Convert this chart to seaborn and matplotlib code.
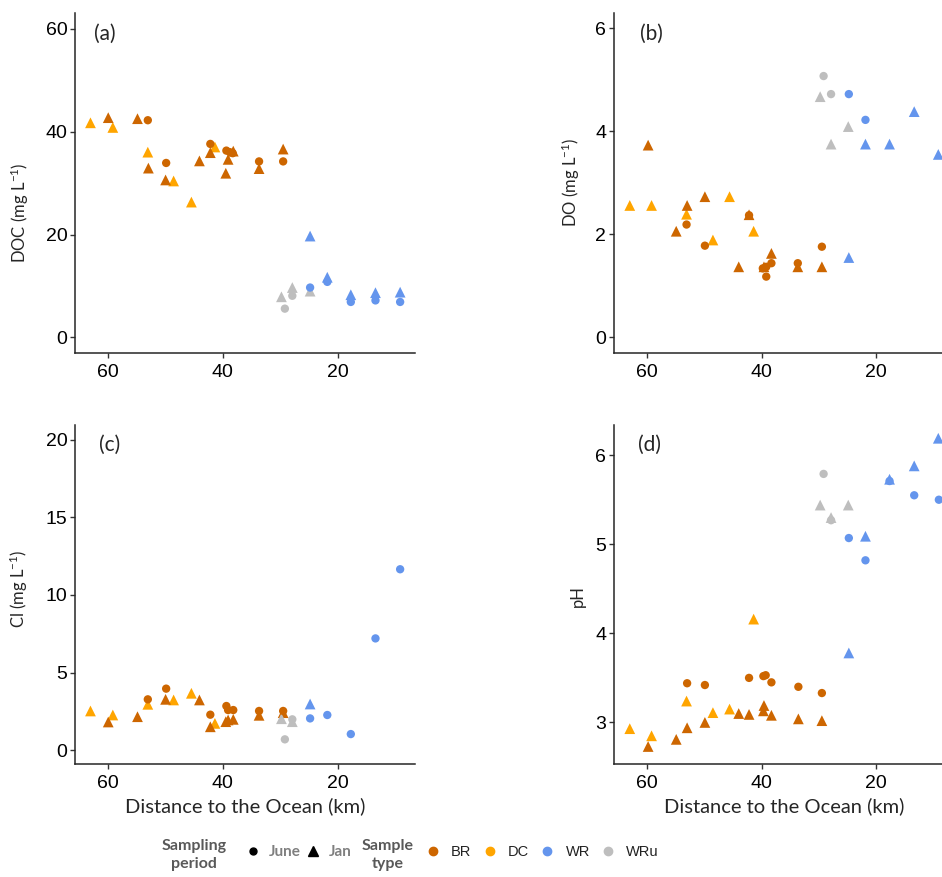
import pandas as pd
import seaborn as sns
import matplotlib.pyplot as plt
from matplotlib.lines import Line2D

# each point: (distance to ocean km, value, sample type, sampling period)
doc_pts = [
    (63.1, 41.7, 'DC', 'Jan'), (59.2, 40.8, 'DC', 'Jan'), (53.1, 36.0, 'DC', 'Jan'),
    (48.6, 30.4, 'DC', 'Jan'), (45.5, 26.3, 'DC', 'Jan'), (41.4, 37.0, 'DC', 'Jan'),
    (60.0, 42.7, 'BR', 'Jan'), (54.9, 42.5, 'BR', 'Jan'), (53.0, 32.9, 'BR', 'Jan'),
    (50.0, 30.6, 'BR', 'Jan'), (44.1, 34.3, 'BR', 'Jan'), (42.2, 35.9, 'BR', 'Jan'),
    (39.5, 31.9, 'BR', 'Jan'), (39.1, 34.6, 'BR', 'Jan'), (38.2, 36.2, 'BR', 'Jan'),
    (33.7, 32.8, 'BR', 'Jan'), (29.5, 36.6, 'BR', 'Jan'),
    (29.8, 7.9, 'WRu', 'Jan'), (27.9, 9.7, 'WRu', 'Jan'), (24.8, 9.0, 'WRu', 'Jan'),
    (24.8, 19.7, 'WR', 'Jan'), (21.8, 11.7, 'WR', 'Jan'), (17.7, 8.3, 'WR', 'Jan'),
    (13.4, 8.7, 'WR', 'Jan'), (9.1, 8.8, 'WR', 'Jan'),
    (53.1, 42.2, 'BR', 'June'), (49.9, 33.9, 'BR', 'June'), (42.2, 37.6, 'BR', 'June'),
    (39.4, 36.3, 'BR', 'June'), (38.8, 36.0, 'BR', 'June'), (38.3, 35.8, 'BR', 'June'),
    (33.7, 34.2, 'BR', 'June'), (29.5, 34.2, 'BR', 'June'),
    (29.2, 5.6, 'WRu', 'June'), (27.9, 8.1, 'WRu', 'June'),
    (24.8, 9.7, 'WR', 'June'), (21.8, 10.8, 'WR', 'June'), (17.7, 6.9, 'WR', 'June'),
    (13.4, 7.2, 'WR', 'June'), (9.1, 6.9, 'WR', 'June'),
]

do_pts = [
    (63.0, 2.56, 'DC', 'Jan'), (59.2, 2.56, 'DC', 'Jan'), (53.1, 2.39, 'DC', 'Jan'),
    (48.5, 1.89, 'DC', 'Jan'), (45.6, 2.73, 'DC', 'Jan'), (41.4, 2.06, 'DC', 'Jan'),
    (59.8, 3.73, 'BR', 'Jan'), (54.9, 2.06, 'BR', 'Jan'), (53.0, 2.56, 'BR', 'Jan'),
    (49.9, 2.73, 'BR', 'Jan'), (44.0, 1.37, 'BR', 'Jan'), (42.2, 2.38, 'BR', 'Jan'),
    (39.6, 1.37, 'BR', 'Jan'), (38.3, 1.63, 'BR', 'Jan'), (33.7, 1.37, 'BR', 'Jan'),
    (29.5, 1.37, 'BR', 'Jan'),
    (29.8, 4.67, 'WRu', 'Jan'), (27.9, 3.75, 'WRu', 'Jan'), (24.9, 4.09, 'WRu', 'Jan'),
    (24.8, 1.55, 'WR', 'Jan'), (21.9, 3.75, 'WR', 'Jan'), (17.7, 3.75, 'WR', 'Jan'),
    (13.4, 4.38, 'WR', 'Jan'), (9.2, 3.55, 'WR', 'Jan'),
    (53.1, 2.19, 'BR', 'June'), (49.9, 1.78, 'BR', 'June'), (42.2, 2.37, 'BR', 'June'),
    (39.8, 1.34, 'BR', 'June'), (39.2, 1.37, 'BR', 'June'), (39.2, 1.18, 'BR', 'June'),
    (38.3, 1.44, 'BR', 'June'), (33.7, 1.44, 'BR', 'June'), (29.5, 1.76, 'BR', 'June'),
    (29.2, 5.07, 'WRu', 'June'), (27.9, 4.72, 'WRu', 'June'),
    (24.8, 4.72, 'WR', 'June'), (21.9, 4.22, 'WR', 'June'),
]

cl_pts = [
    (63.1, 2.52, 'DC', 'Jan'), (59.2, 2.26, 'DC', 'Jan'), (53.1, 2.95, 'DC', 'Jan'),
    (48.6, 3.23, 'DC', 'Jan'), (45.5, 3.66, 'DC', 'Jan'), (41.4, 1.72, 'DC', 'Jan'),
    (60.0, 1.81, 'BR', 'Jan'), (54.9, 2.15, 'BR', 'Jan'), (50.0, 3.27, 'BR', 'Jan'),
    (44.1, 3.23, 'BR', 'Jan'), (42.2, 1.50, 'BR', 'Jan'), (39.5, 1.83, 'BR', 'Jan'),
    (39.1, 1.94, 'BR', 'Jan'), (38.2, 1.98, 'BR', 'Jan'), (33.7, 2.24, 'BR', 'Jan'),
    (29.5, 2.41, 'BR', 'Jan'),
    (29.8, 2.02, 'WRu', 'Jan'), (27.9, 1.83, 'WRu', 'Jan'),
    (24.8, 2.97, 'WR', 'Jan'),
    (53.1, 3.27, 'BR', 'June'), (49.9, 3.96, 'BR', 'June'), (42.2, 2.28, 'BR', 'June'),
    (39.4, 2.84, 'BR', 'June'), (39.1, 2.58, 'BR', 'June'), (38.2, 2.58, 'BR', 'June'),
    (33.7, 2.52, 'BR', 'June'), (29.5, 2.52, 'BR', 'June'),
    (29.2, 0.69, 'WRu', 'June'), (27.9, 1.98, 'WRu', 'June'),
    (24.8, 2.04, 'WR', 'June'), (21.8, 2.26, 'WR', 'June'), (17.7, 1.03, 'WR', 'June'),
    (13.4, 7.20, 'WR', 'June'), (9.1, 11.66, 'WR', 'June'),
]

ph_pts = [
    (63.0, 2.93, 'DC', 'Jan'), (59.2, 2.85, 'DC', 'Jan'), (53.1, 3.24, 'DC', 'Jan'),
    (48.5, 3.11, 'DC', 'Jan'), (45.6, 3.15, 'DC', 'Jan'), (41.4, 4.16, 'DC', 'Jan'),
    (59.8, 2.73, 'BR', 'Jan'), (54.9, 2.81, 'BR', 'Jan'), (53.0, 2.94, 'BR', 'Jan'),
    (49.9, 3.00, 'BR', 'Jan'), (44.0, 3.10, 'BR', 'Jan'), (42.2, 3.09, 'BR', 'Jan'),
    (39.6, 3.19, 'BR', 'Jan'), (39.7, 3.13, 'BR', 'Jan'), (38.3, 3.08, 'BR', 'Jan'),
    (33.6, 3.04, 'BR', 'Jan'), (29.5, 3.02, 'BR', 'Jan'),
    (29.8, 5.44, 'WRu', 'Jan'), (27.9, 5.30, 'WRu', 'Jan'), (24.9, 5.44, 'WRu', 'Jan'),
    (24.8, 3.78, 'WR', 'Jan'), (21.9, 5.09, 'WR', 'Jan'), (17.7, 5.73, 'WR', 'Jan'),
    (13.4, 5.88, 'WR', 'Jan'), (9.2, 6.19, 'WR', 'Jan'),
    (53.0, 3.44, 'BR', 'June'), (49.9, 3.42, 'BR', 'June'), (42.2, 3.50, 'BR', 'June'),
    (39.7, 3.52, 'BR', 'June'), (39.3, 3.53, 'BR', 'June'), (38.3, 3.45, 'BR', 'June'),
    (33.6, 3.40, 'BR', 'June'), (29.5, 3.33, 'BR', 'June'),
    (29.2, 5.79, 'WRu', 'June'), (27.9, 5.27, 'WRu', 'June'),
    (24.8, 5.07, 'WR', 'June'), (21.9, 4.82, 'WR', 'June'), (17.7, 5.71, 'WR', 'June'),
    (13.4, 5.55, 'WR', 'June'), (9.1, 5.50, 'WR', 'June'),
]

sample_types = ['BR', 'DC', 'WR', 'WRu']
periods = ['June', 'Jan']
type_colors = {'BR': '#CD6600', 'DC': '#FFA500', 'WR': '#6495ED', 'WRu': '#BEBEBE'}
period_markers = {'June': 'o', 'Jan': '^'}
period_sizes = {'June': 36, 'Jan': 60}

sns.set_style('ticks')
plt.rcParams['font.family'] = ['Liberation Sans', 'DejaVu Sans']
plt.rcParams['mathtext.default'] = 'regular'
plt.rcParams['axes.linewidth'] = 1.1
plt.rcParams['xtick.major.width'] = 1.0
plt.rcParams['ytick.major.width'] = 1.0
plt.rcParams['xtick.major.size'] = 3.5
plt.rcParams['ytick.major.size'] = 3.5
plt.rcParams['xtick.color'] = '#333333'
plt.rcParams['ytick.color'] = '#333333'

fig = plt.figure(figsize=(9.42, 8.77), dpi=100)

label_font = ['Lato', 'DejaVu Sans']
panels = [
    # points, ylabel, ylim, yticks, tag, tag pos, ylabel pos, axes rect
    (doc_pts, 'DOC (mg L$^{-1}$)', (-3.1, 63), [0, 20, 40, 60], '(a)', (0.055, 0.94),
     (-0.129, 0.413), [0.0796, 0.597, 0.361, 0.388]),
    (do_pts, 'DO (mg L$^{-1}$)', (-0.31, 6.29), [0, 2, 4, 6], '(b)', (0.078, 0.94),
     (-0.092, 0.504), [0.6515, 0.597, 0.361, 0.388]),
    (cl_pts, 'Cl (mg L$^{-1}$)', (-0.92, 20.97), [0, 5, 10, 15, 20], '(c)', (0.071, 0.94),
     (-0.133, 0.517), [0.0796, 0.1285, 0.361, 0.387]),
    (ph_pts, 'pH', (2.53, 6.34), [3, 4, 5, 6], '(d)', (0.07, 0.94),
     (-0.081, 0.496), [0.6515, 0.1285, 0.361, 0.387]),
]

for i, (pts, ylab, ylim, yticks, tag, tagpos, labpos, rect) in enumerate(panels):
    ax = fig.add_axes(rect)
    df = pd.DataFrame(pts, columns=['km', 'val', 'type', 'period'])
    sns.scatterplot(data=df, x='km', y='val', hue='type', style='period', size='period',
                    hue_order=sample_types, style_order=periods, size_order=periods,
                    palette=type_colors, markers=period_markers, sizes=period_sizes,
                    linewidth=0, alpha=1, legend=False, ax=ax)
    ax.set_xlim(65.8, 6.5)
    ax.set_ylim(*ylim)
    ax.set_xticks([60, 40, 20])
    ax.set_yticks(yticks)
    ax.tick_params(labelsize=14, labelcolor='black')
    ax.tick_params(axis='x', pad=4)
    ax.tick_params(axis='y', pad=2)
    ax.set_ylabel(ylab, fontsize=12, family=label_font)
    ax.yaxis.set_label_coords(*labpos)
    if i >= 2:
        ax.set_xlabel('Distance to the Ocean (km)', fontsize=14.5, family=label_font,
                      labelpad=4)
    else:
        ax.set_xlabel('')
    ax.text(tagpos[0], tagpos[1], tag, transform=ax.transAxes, fontsize=15,
            family=label_font, ha='left', va='center')
    sns.despine(ax=ax)

# legend row at the bottom
grey_txt = '#595959'
fig.text(194 / 942, 1 - 855 / 877, 'Sampling\nperiod', ha='center', va='center',
         fontsize=11.5, fontweight='bold', color=grey_txt, linespacing=1.45,
         family=label_font)
period_handles = [Line2D([], [], marker=period_markers[p], color='black', linestyle='',
                         markersize=5 if p == 'June' else 7, label=p) for p in periods]
fig.legend(handles=period_handles, loc='center left', bbox_to_anchor=(247 / 942, 1 - 852 / 877),
           ncol=2, frameon=False, borderpad=0, borderaxespad=0, handletextpad=0.65,
           columnspacing=0.4, handlelength=0.8, labelcolor='#7F7F7F',
           prop={'family': label_font, 'size': 11, 'weight': 'bold'})

fig.text(388 / 942, 1 - 855 / 877, 'Sample\ntype', ha='center', va='center',
         fontsize=11.5, fontweight='bold', color=grey_txt, linespacing=1.45,
         family=label_font)
type_handles = [Line2D([], [], marker='o', color=type_colors[t], linestyle='',
                       markersize=6, label=t) for t in sample_types]
fig.legend(handles=type_handles, loc='center left', bbox_to_anchor=(427 / 942, 1 - 852 / 877),
           ncol=4, frameon=False, borderpad=0, borderaxespad=0, handletextpad=0.85,
           columnspacing=0.85, handlelength=0.8, labelcolor='#222222',
           prop={'family': ['Liberation Sans', 'DejaVu Sans'], 'size': 10.5})

fig.savefig('out.png', dpi=100)
